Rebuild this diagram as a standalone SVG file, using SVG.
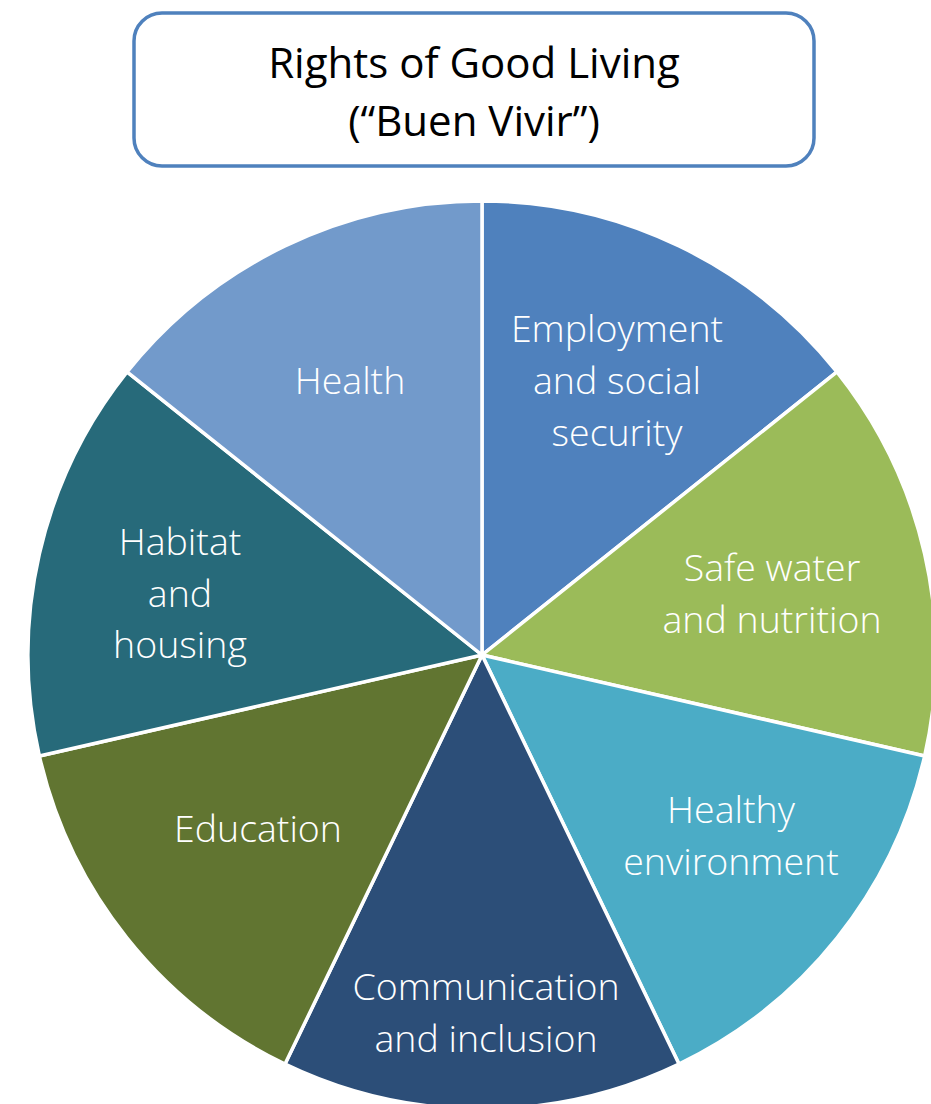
<svg xmlns="http://www.w3.org/2000/svg" width="931" height="1104" viewBox="0 0 931 1104">
  <style>
    .slice { stroke: #ffffff; stroke-width: 3.5; stroke-linejoin: round; }
    .lbl { font-family: "Open Sans", "Liberation Sans", sans-serif; font-weight: 300; font-size: 37.5px; fill: #ffffff; text-anchor: middle; }
    .title { font-family: "Open Sans", "Liberation Sans", sans-serif; font-size: 42px; fill: #000000; text-anchor: middle; }
  </style>
  <rect width="931" height="1104" fill="#ffffff"/>

  <!-- heading box -->
  <g id="title">
    <rect x="134" y="13" width="680" height="153" rx="28" ry="28" fill="#ffffff" stroke="#4F81BD" stroke-width="3.5"/>
    <text class="title" x="474" y="78">Rights of Good Living</text>
    <text class="title" x="474" y="136">(“Buen Vivir”)</text>
  </g>

  <!-- seven equal wedges, centre (482,655), radius 454 -->
  <g id="employment">
    <path class="slice" fill="#4F81BD" d="M482,655 L482,201 A454,454 0 0 1 836.95,371.94 Z"/>
    <text class="lbl" x="617" y="342">Employment</text>
    <text class="lbl" x="617" y="394">and social</text>
    <text class="lbl" x="617" y="446">security</text>
  </g>
  <g id="water">
    <path class="slice" fill="#9BBB59" d="M482,655 L836.95,371.94 A454,454 0 0 1 924.62,756.02 Z"/>
    <text class="lbl" x="772" y="581">Safe water</text>
    <text class="lbl" x="772" y="633">and nutrition</text>
  </g>
  <g id="environment">
    <path class="slice" fill="#4BACC6" d="M482,655 L924.62,756.02 A454,454 0 0 1 678.98,1064.04 Z"/>
    <text class="lbl" x="731" y="823">Healthy</text>
    <text class="lbl" x="731" y="875">environment</text>
  </g>
  <g id="communication">
    <path class="slice" fill="#2C4E78" d="M482,655 L678.98,1064.04 A454,454 0 0 1 285.02,1064.04 Z"/>
    <text class="lbl" x="486" y="1000">Communication</text>
    <text class="lbl" x="486" y="1052">and inclusion</text>
  </g>
  <g id="education">
    <path class="slice" fill="#617531" d="M482,655 L285.02,1064.04 A454,454 0 0 1 39.38,756.02 Z"/>
    <text class="lbl" x="258" y="842">Education</text>
  </g>
  <g id="habitat">
    <path class="slice" fill="#276A7A" d="M482,655 L39.38,756.02 A454,454 0 0 1 127.05,371.94 Z"/>
    <text class="lbl" x="180" y="555">Habitat</text>
    <text class="lbl" x="180" y="607">and</text>
    <text class="lbl" x="180" y="658">housing</text>
  </g>
  <g id="health">
    <path class="slice" fill="#729ACB" d="M482,655 L127.05,371.94 A454,454 0 0 1 482,201 Z"/>
    <text class="lbl" x="350" y="394">Health</text>
  </g>
</svg>
